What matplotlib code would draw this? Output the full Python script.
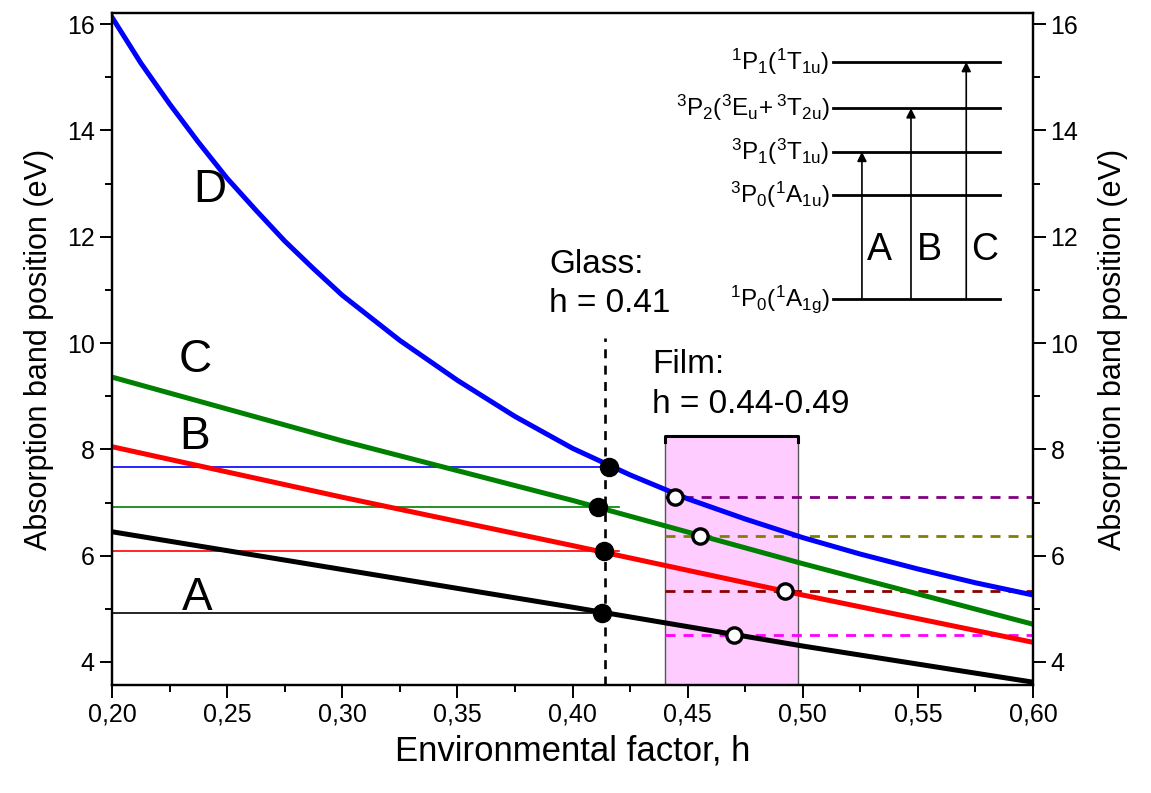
import numpy as np
import matplotlib
matplotlib.use("Agg")
import matplotlib.pyplot as plt
import matplotlib.ticker as mticker
from matplotlib.patches import Rectangle

plt.rcParams["font.family"] = ["Liberation Sans", "DejaVu Sans"]
plt.rcParams["mathtext.fontset"] = "custom"
plt.rcParams["mathtext.rm"] = "Liberation Sans"
plt.rcParams["mathtext.it"] = "Liberation Sans:italic"

# ── Data ─────────────────────────────────────────────────────────────────────
h_lin = [0.20, 0.30, 0.40, 0.50, 0.60]
band_A = [6.45, 5.74, 5.03, 4.30, 3.62]
band_B = [8.05, 7.10, 6.19, 5.26, 4.37]
band_C = [9.36, 8.16, 7.04, 5.85, 4.71]

h_D = [0.200, 0.2125, 0.225, 0.2375, 0.250, 0.2625, 0.275, 0.2875, 0.300,
       0.325, 0.350, 0.375, 0.400, 0.425, 0.450, 0.475, 0.500, 0.525,
       0.550, 0.575, 0.600]
band_D = [16.13, 15.27, 14.50, 13.78, 13.10, 12.50, 11.92, 11.40, 10.90,
          10.05, 9.30, 8.62, 8.02, 7.52, 7.07, 6.69, 6.34, 6.03,
          5.75, 5.49, 5.26]

# glass points (filled) and film points (open)
glass_h = [0.413, 0.4137, 0.411, 0.416]
glass_E = [4.93, 6.08, 6.91, 7.66]
glass_hline_end = [0.413, 0.420, 0.420, 0.416]
band_colors = ["black", "red", "green", "blue"]

film_h = [0.470, 0.4923, 0.4554, 0.4445]
film_E = [4.50, 5.34, 6.37, 7.11]
film_dash_colors = ["magenta", "#8B0000", "#808000", "#800080"]

glass_h_line = 0.414
film_range = (0.440, 0.498)
film_top = 8.26

# energy-level scheme (inset)
level_labels = [r"$\mathregular{^1P_1(^1T_{1u})}$",
                r"$\mathregular{^3P_2(^3E_u\!+^3T_{2u})}$",
                r"$\mathregular{^3P_1(^3T_{1u})}$",
                r"$\mathregular{^3P_0(^1A_{1u})}$",
                r"$\mathregular{^1P_0(^1A_{1g})}$"]
level_E = [15.29, 14.42, 13.60, 12.79, 10.83]
level_x = (0.5131, 0.5857)
arrow_h = [0.5257, 0.547, 0.571]
arrow_top = [13.60, 14.42, 15.29]
arrow_names = ["A", "B", "C"]

xlim = (0.2, 0.6)
ylim = (3.567, 16.21)

# ── Figure ───────────────────────────────────────────────────────────────────
fig = plt.figure(figsize=(11.51, 7.93), dpi=100)
ax = fig.add_axes([0.0973, 0.1362, 0.8002, 0.8474])

# film region
ax.add_patch(Rectangle((film_range[0], ylim[0]), film_range[1] - film_range[0],
                       film_top - ylim[0], facecolor="#FFCCFF",
                       edgecolor="#555555", linewidth=1.0, zorder=1))
ax.plot([film_range[0], film_range[0], film_range[1], film_range[1]],
        [film_top - 0.12, film_top, film_top, film_top - 0.12],
        color="black", linewidth=2.2, zorder=2)

# horizontal reference lines for glass
for e, hend, c in zip(glass_E, glass_hline_end, band_colors):
    ax.plot([xlim[0], hend], [e, e], color=c, linewidth=1.2, zorder=2)

# film dashed lines
for e, c in zip(film_E, film_dash_colors):
    ax.plot([film_range[0], xlim[1]], [e, e], color=c, linewidth=2.0,
            linestyle=(0, (3.6, 2.9)), zorder=2)

# glass vertical dashed line
ax.plot([glass_h_line, glass_h_line], [ylim[0], 10.1], color="black",
        linewidth=1.9, linestyle=(0, (3.4, 2.8)), zorder=2)

# band curves
ax.plot(h_lin, band_A, color="black", linewidth=3.6, zorder=3)
ax.plot(h_lin, band_B, color="red", linewidth=3.6, zorder=3)
ax.plot(h_lin, band_C, color="green", linewidth=3.6, zorder=3)
ax.plot(h_D, band_D, color="blue", linewidth=3.6, zorder=3)

ax.plot(glass_h, glass_E, "o", color="black", markersize=13, zorder=5)
ax.plot(film_h, film_E, "o", markerfacecolor="white", markeredgecolor="black",
        markersize=11, markeredgewidth=2.4, zorder=5)

# band letters
for txt, x, y in [("D", 0.2426, 12.88), ("C", 0.236, 9.68),
                  ("B", 0.236, 8.23), ("A", 0.237, 5.20)]:
    ax.text(x, y, txt, fontsize=33, ha="center", va="center")

ax.text(0.390, 11.47, "Glass:", fontsize=24, ha="left", va="center")
ax.text(0.390, 10.75, "h = 0.41", fontsize=24, ha="left", va="center")
ax.text(0.4345, 9.59, "Film:", fontsize=24, ha="left", va="center")
ax.text(0.4345, 8.84, "h = 0.44-0.49", fontsize=24, ha="left", va="center")

# inset level scheme
for lab, e in zip(level_labels, level_E):
    ax.plot(level_x, [e, e], color="black", linewidth=2.0, zorder=4)
    ax.text(level_x[0] - 0.0015, e, lab, fontsize=17.5, ha="right",
            va="center")
for x, top, name in zip(arrow_h, arrow_top, arrow_names):
    ax.annotate("", xy=(x, top), xytext=(x, level_E[-1]),
                arrowprops=dict(arrowstyle="-|>", color="black", lw=1.2,
                                mutation_scale=14, shrinkA=0, shrinkB=0),
                zorder=4)
    ax.text(x + 0.0078, 11.75, name, fontsize=27, ha="center", va="center")

# ── Axes styling ─────────────────────────────────────────────────────────────
ax.set_xlim(*xlim)
ax.set_ylim(*ylim)
ax.xaxis.set_major_locator(mticker.MultipleLocator(0.05))
ax.xaxis.set_minor_locator(mticker.MultipleLocator(0.025))
ax.yaxis.set_major_locator(mticker.MultipleLocator(2))
ax.yaxis.set_minor_locator(mticker.MultipleLocator(1))
ax.xaxis.set_major_formatter(mticker.FuncFormatter(
    lambda v, _: f"{v:.2f}".replace(".", ",")))
ax.tick_params(which="major", direction="out", length=9, width=1.4,
               labelsize=18, top=False, right=False)
ax.tick_params(which="minor", direction="out", length=5, width=1.4,
               top=False, right=False)
for s in ax.spines.values():
    s.set_linewidth(1.6)

ax.set_xlabel("Environmental factor, h", fontsize=25, labelpad=6)
ax.set_ylabel("Absorption band position (eV)", fontsize=22, labelpad=9)

ax2 = ax.twinx()
ax2.set_ylim(*ylim)
ax2.yaxis.set_major_locator(mticker.MultipleLocator(2))
ax2.yaxis.set_minor_locator(mticker.MultipleLocator(1))
ax2.tick_params(which="major", direction="out", length=9, width=1.4,
                labelsize=18)
ax2.tick_params(which="minor", direction="out", length=5, width=1.4)
ax2.set_ylabel("Absorption band position (eV)", fontsize=22, labelpad=14)
for s in ax2.spines.values():
    s.set_linewidth(1.6)

fig.savefig("out.png", dpi=100)
